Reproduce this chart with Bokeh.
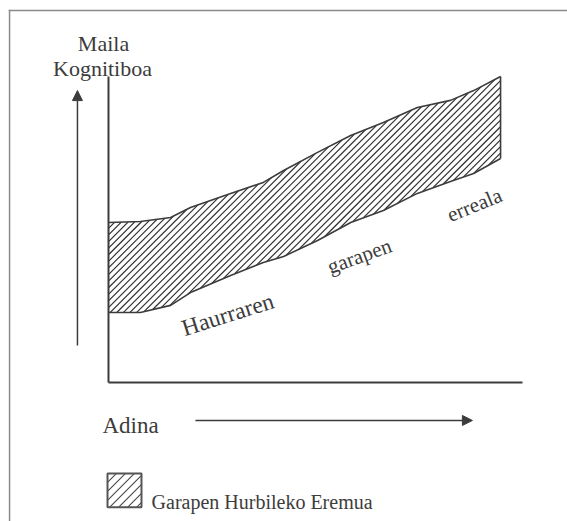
import numpy as np
from bokeh.plotting import figure
from bokeh.models import Range1d, Arrow, NormalHead, ColumnDataSource
from bokeh.core.properties import value
from bokeh.embed import file_html
from bokeh.resources import INLINE

# --- data (age vs cognitive level, arbitrary units 0..100) ---
age = [0, 7.7, 15.0, 19.8, 29.5, 37.4, 42.3, 50.5, 58.5, 66.4, 74.6, 82.6, 88.2, 94.7]
upper_level = [52.3, 52.6, 53.9, 57.2, 61.8, 65.4, 69.3, 75.2, 80.7, 85.0, 89.9, 92.2, 95.4, 100.0]
lower_level = [22.9, 22.9, 25.2, 29.4, 35.0, 39.2, 41.2, 46.4, 52.3, 56.2, 61.8, 65.7, 68.3, 73.2]

y_title = ["Maila", "Kognitiboa"]
x_title = "Adina"
curve_words = ["Haurraren", "garapen", "erreala"]
legend_label = "Garapen Hurbileko Eremua"

INK = "#3c3c3c"
SERIF = value("Liberation Serif")

W, H = 567, 521
XR = (-26.087, 110.87)
YR = (-45.42, 124.84)
SX = W / (XR[1] - XR[0])   # px per x unit
SY = H / (YR[1] - YR[0])   # px per y unit


def hatch_lines(xs, lo, hi, spacing_px):
    """45-degree (screen) hatch lines clipped to the area between lo(x) and hi(x)."""
    xs = np.asarray(xs, float)
    u = np.arange(xs[0] * SX, xs[-1] * SX + 1e-9, 0.25)
    x = u / SX
    vlo = np.interp(x, xs, lo) * SY
    vhi = np.interp(x, xs, hi) * SY
    c_min = u.min() - vhi.max()
    c_max = u.max() - vlo.min()
    mx, my = [], []
    for c in np.arange(c_min, c_max, spacing_px):
        v = u - c
        inside = (v >= vlo) & (v <= vhi)
        if not inside.any():
            continue
        idx = np.flatnonzero(inside)
        breaks = np.flatnonzero(np.diff(idx) > 1)
        starts = np.r_[idx[0], idx[breaks + 1]]
        ends = np.r_[idx[breaks], idx[-1]]
        for s, e in zip(starts, ends):
            mx.append([u[s] / SX, u[e] / SX])
            my.append([v[s] / SY, v[e] / SY])
    return mx, my


p = figure(width=W, height=H, output_backend="svg", toolbar_location=None,
           x_axis_type=None, y_axis_type=None, min_border=0,
           x_range=Range1d(*XR), y_range=Range1d(*YR))
p.grid.visible = False
p.outline_line_color = None
p.background_fill_color = "white"
p.border_fill_color = "white"

# outer frame (top and left edges visible)
p.segment(x0=[-24.1, -23.9], y0=[121.6, 121.8], x1=[112, -23.9], y1=[121.6, -46],
          line_color="#8a8a8a", line_width=1.5)

# zone of proximal development (hatched)
hx, hy = hatch_lines(age, lower_level, upper_level, 6.6)
p.multi_line(hx, hy, line_color="#2e2e2e", line_width=1.15)
p.line(age, upper_level, line_color=INK, line_width=1.6)
p.line(age, lower_level, line_color=INK, line_width=1.6)
p.segment(x0=[age[-1]], y0=[lower_level[-1]], x1=[age[-1]], y1=[upper_level[-1]],
          line_color=INK, line_width=1.6)

# axes
p.segment(x0=[0, 0], y0=[100, 0], x1=[0, 100], y1=[0, 0], line_color=INK, line_width=2)

# direction arrows
p.add_layout(Arrow(end=NormalHead(size=10, fill_color=INK, line_color=INK),
                   x_start=-7.5, y_start=12.1, x_end=-7.5, y_end=95.4,
                   line_color=INK, line_width=1.5))
p.add_layout(Arrow(end=NormalHead(size=10, fill_color=INK, line_color=INK),
                   x_start=21.0, y_start=-12.4, x_end=87.9, y_end=-12.4,
                   line_color=INK, line_width=1.5))

# axis titles
p.text(x=[-1.2, -1.45], y=[110.8, 102.6], text=y_title, text_align="center",
       text_baseline="alphabetic", text_font=SERIF, text_font_size="22px", text_color=INK)
p.text(x=[-1.45], y=[-14.05], text=[x_title], text_align="left",
       text_baseline="alphabetic", text_font=SERIF, text_font_size="23px", text_color=INK)

# curve labels
src = ColumnDataSource(dict(x=[28.8, 60.6, 88.4], y=[22.3, 41.3, 58.0], t=curve_words,
                            a=[0.305, 0.35, 0.39], s=["23.5px", "21px", "21px"]))
p.text(x="x", y="y", text="t", angle="a", source=src, text_align="center",
       text_baseline="alphabetic", text_font=SERIF, text_font_size="s", text_color=INK)

# legend
leg_x = [-0.24, 7.97]
leg_lo = [-40.8, -40.8]
leg_hi = [-29.7, -29.7]
lx, ly = hatch_lines(leg_x, leg_lo, leg_hi, 9.0)
p.multi_line(lx, ly, line_color="#444444", line_width=1.1)
p.quad(left=[leg_x[0]], right=[leg_x[1]], bottom=[leg_lo[0]], top=[leg_hi[0]],
       fill_color=None, line_color="#555555", line_width=2)
p.text(x=[10.4], y=[-38.9], text=[legend_label], text_align="left",
       text_baseline="alphabetic", text_font=SERIF, text_font_size="20px", text_color=INK)

open("out.html", "w").write(file_html(p, INLINE))
